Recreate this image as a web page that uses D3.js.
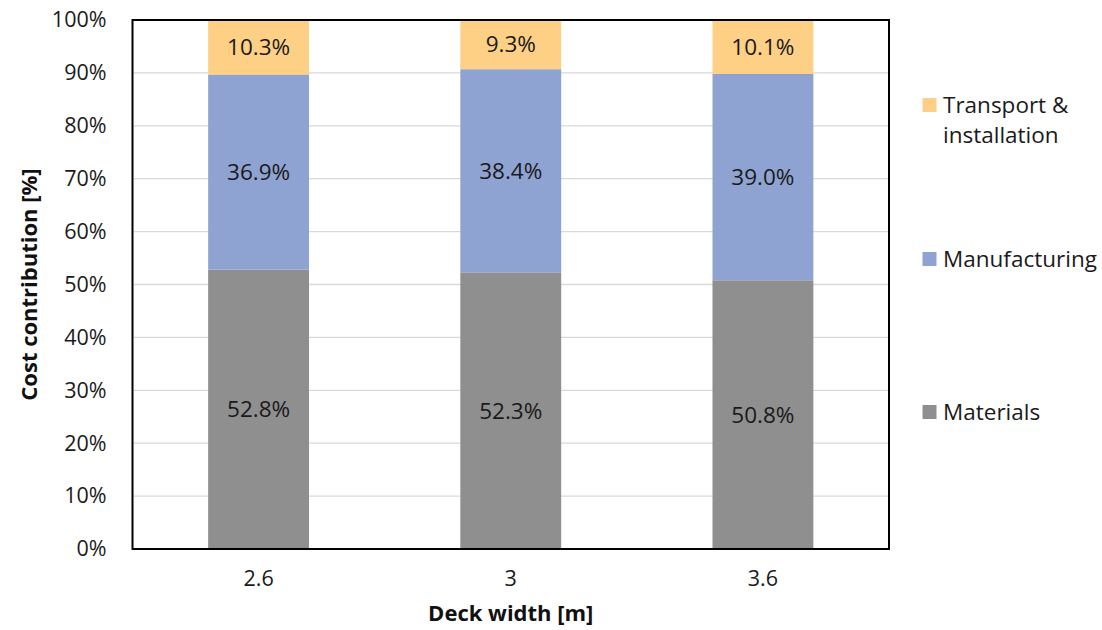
<!DOCTYPE html>
<html>
<head>
<meta charset="utf-8">
<script src="https://cdn.jsdelivr.net/npm/d3@7"></script>
<style>
  html, body { margin: 0; padding: 0; background: #fff; }
  svg { display: block; font-family: "Open Sans", "Liberation Sans", sans-serif; }
</style>
</head>
<body>
<svg id="chart" width="1102" height="630"></svg>
<script>
// Deck widths on the x axis
const categories = ["2.6", "3", "3.6"];
// Stack order, bottom to top
const seriesNames = ["Materials", "Manufacturing", "Transport & installation"];
// Percentage share of each cost component per deck width
const materials = [52.8, 52.3, 50.8];
const manufacturing = [36.9, 38.4, 39.0];
const transport = [10.3, 9.3, 10.1];
const yTicks = [0, 10, 20, 30, 40, 50, 60, 70, 80, 90, 100];

const colors = {
  "Materials": "#8f8f8f",
  "Manufacturing": "#8fa3d3",
  "Transport & installation": "#fed086"
};

const rows = categories.map((c, i) => ({
  cat: c,
  "Materials": materials[i],
  "Manufacturing": manufacturing[i],
  "Transport & installation": transport[i]
}));

const svg = d3.select("#chart");
const plot = { left: 132.5, right: 889, top: 20, bottom: 549 };

const x = d3.scaleBand().domain(categories).range([plot.left, plot.right]).paddingInner(0.6).paddingOuter(0.3);
const y = d3.scaleLinear().domain([0, 100]).range([plot.bottom, plot.top]);

// Horizontal gridlines
svg.append("g")
  .selectAll("line")
  .data(yTicks.filter(t => t > 0 && t < 100))
  .join("line")
  .attr("x1", plot.left).attr("x2", plot.right)
  .attr("y1", d => y(d)).attr("y2", d => y(d))
  .attr("stroke", "#d9d9d9").attr("stroke-width", 1.3);

const stack = d3.stack().keys(seriesNames)(rows);

const layers = svg.append("g").selectAll("g")
  .data(stack)
  .join("g")
  .attr("fill", d => colors[d.key]);

layers.selectAll("rect")
  .data(d => d)
  .join("rect")
  .attr("x", d => x(d.data.cat))
  .attr("width", x.bandwidth())
  .attr("y", d => y(d[1]))
  .attr("height", d => y(d[0]) - y(d[1]));

// Value labels centred in each segment
svg.append("g").selectAll("g")
  .data(stack)
  .join("g")
  .selectAll("text")
  .data(d => d)
  .join("text")
  .attr("x", d => x(d.data.cat) + x.bandwidth() / 2)
  .attr("y", d => y((d[0] + d[1]) / 2))
  .attr("dy", "0.35em")
  .attr("text-anchor", "middle")
  .attr("font-size", 22.5)
  .attr("fill", "#1a1a1a")
  .text(d => (d[1] - d[0]).toFixed(1) + "%");

// Plot frame
svg.append("rect")
  .attr("x", plot.left).attr("y", plot.top)
  .attr("width", plot.right - plot.left).attr("height", plot.bottom - plot.top)
  .attr("fill", "none").attr("stroke", "#000").attr("stroke-width", 2);

// Y axis
const yAxis = svg.append("g")
  .attr("transform", `translate(${plot.left},0)`)
  .call(d3.axisLeft(y).tickValues(yTicks).tickSize(0).tickPadding(26).tickFormat(d => d + "%"));
yAxis.select(".domain").remove();
yAxis.selectAll("text").attr("font-size", 21.5).attr("fill", "#1a1a1a").attr("font-family", "Open Sans");

// X axis
const xAxis = svg.append("g")
  .attr("transform", `translate(0,${plot.bottom})`)
  .call(d3.axisBottom(x).tickSize(0).tickPadding(22));
xAxis.select(".domain").remove();
xAxis.selectAll("text").attr("font-size", 21.5).attr("fill", "#1a1a1a").attr("font-family", "Open Sans");

// Axis titles
svg.append("text")
  .attr("x", (plot.left + plot.right) / 2)
  .attr("y", 621)
  .attr("text-anchor", "middle")
  .attr("font-size", 22).attr("font-weight", "bold").attr("fill", "#111")
  .text("Deck width [m]");

svg.append("text")
  .attr("transform", `translate(37,${(plot.top + plot.bottom) / 2}) rotate(-90)`)
  .attr("text-anchor", "middle")
  .attr("font-size", 22).attr("font-weight", "bold").attr("fill", "#111")
  .text("Cost contribution [%]");

// Legend
const legendItems = [
  { key: "Transport & installation", lines: ["Transport &", "installation"], cy: 105 },
  { key: "Manufacturing", lines: ["Manufacturing"], cy: 259 },
  { key: "Materials", lines: ["Materials"], cy: 412 }
];
const legend = svg.append("g");
legendItems.forEach(item => {
  legend.append("rect")
    .attr("x", 922.5).attr("y", item.cy - 7)
    .attr("width", 14).attr("height", 14)
    .attr("fill", colors[item.key]);
  item.lines.forEach((ln, j) => {
    legend.append("text")
      .attr("x", 943).attr("y", item.cy + j * 30)
      .attr("dy", "0.35em")
      .attr("font-size", 22.5).attr("fill", "#1a1a1a")
      .text(ln);
  });
});
</script>
</body>
</html>
